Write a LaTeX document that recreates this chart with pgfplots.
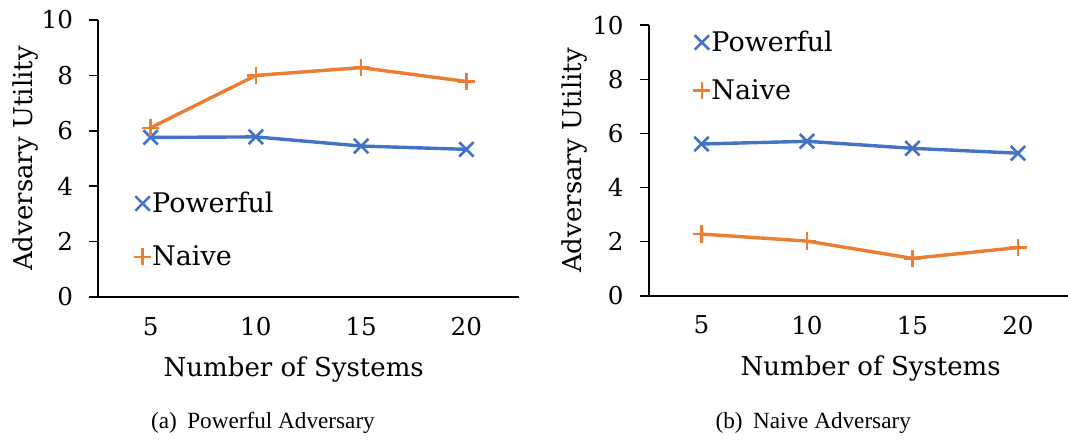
\documentclass[border=0pt]{standalone}
\usepackage{fontspec}
\setmainfont{DejaVu Serif}
\newfontfamily\capfont{Liberation Serif}
\usepackage{pgfplots}
\pgfplotsset{compat=1.18}
\definecolor{cblue}{HTML}{4472C4}
\definecolor{corange}{HTML}{ED7D31}
\pgfplotsset{myax/.style={
  scale only axis, ymin=0, ymax=10, xmin=-0.5, xmax=3.5,
  axis x line*=bottom, axis y line*=left,
  axis line style={-, line width=0.8pt},
  xtick={0,1,2,3}, xticklabels={5,10,15,20}, ytick={0,2,4,6,8,10},
  /pgf/number format/assume math mode=true,
  tick label style={font=\fontsize{12.3}{14}\selectfont},
  label style={font=\fontsize{13}{15}\selectfont},
  xtick style={draw=none}, ytick style={line width=0.8pt, black},
  tick align=outside, major tick length=4.5pt,
  xticklabel style={yshift=-2pt},
  yticklabel style={xshift=-4.5pt},
  clip=false,
  legend cell align=left,
  legend style={draw=none, fill=none, inner sep=0pt, column sep=0pt,
    font=\fontsize{13.5}{15}\selectfont,
    nodes={inner xsep=0.5pt, inner ysep=0pt}},
  legend image code/.code={\draw[##1] plot coordinates {(0pt,0pt)};},
  pw/.style={cblue, line width=1.7pt, mark=x, mark size=5.1pt, mark options={line width=1.3pt}},
  nv/.style={corange, line width=1.7pt, mark=+, mark size=4.3pt, mark options={line width=1.2pt}},
}}
\begin{document}
\begin{tikzpicture}
\useasboundingbox (0,0) rectangle (534pt,219.5pt);
\begin{axis}[myax, at={(49pt,71pt)}, anchor=south west,
  width=210.5pt, height=138.5pt,
  xlabel={Number of Systems}, ylabel={Adversary Utility},
  xlabel style={at={(axis description cs:0.465,-0.288)}, anchor=base},
  ylabel style={at={(axis description cs:-0.173,0.5)}, anchor=center},
  legend style={at={(axis description cs:0.106,0.242)}, anchor=west, xshift=-4.5pt, row sep=15pt}]
\addplot[pw] coordinates {(0,5.76) (1,5.78) (2,5.45) (3,5.33)};
\addlegendentry{Powerful}
\addplot[nv] coordinates {(0,6.11) (1,8.0) (2,8.28) (3,7.78)};
\addlegendentry{Naive}
\end{axis}
\begin{axis}[myax, at={(324.35pt,71.65pt)}, anchor=south west,
  width=211pt, height=135.2pt,
  xlabel={Number of Systems}, ylabel={Adversary Utility},
  xlabel style={at={(axis description cs:0.526,-0.296)}, anchor=base},
  ylabel style={at={(axis description cs:-0.175,0.5)}, anchor=center},
  legend style={at={(axis description cs:0.126,0.848)}, anchor=west, xshift=-4.5pt, row sep=12.5pt}]
\addplot[pw] coordinates {(0,5.61) (1,5.71) (2,5.45) (3,5.27)};
\addlegendentry{Powerful}
\addplot[nv] coordinates {(0,2.28) (1,2.02) (2,1.38) (3,1.78)};
\addlegendentry{Naive}
\end{axis}
\node[anchor=base, font=\capfont\fontsize{11.6}{13}\selectfont] at (131.5pt,5.5pt) {(a)\hspace{0.45em}Powerful Adversary};
\node[anchor=base, font=\capfont\fontsize{11.6}{13}\selectfont] at (406.6pt,5.5pt) {(b)\hspace{0.45em}Naive Adversary};
\end{tikzpicture}
\end{document}
